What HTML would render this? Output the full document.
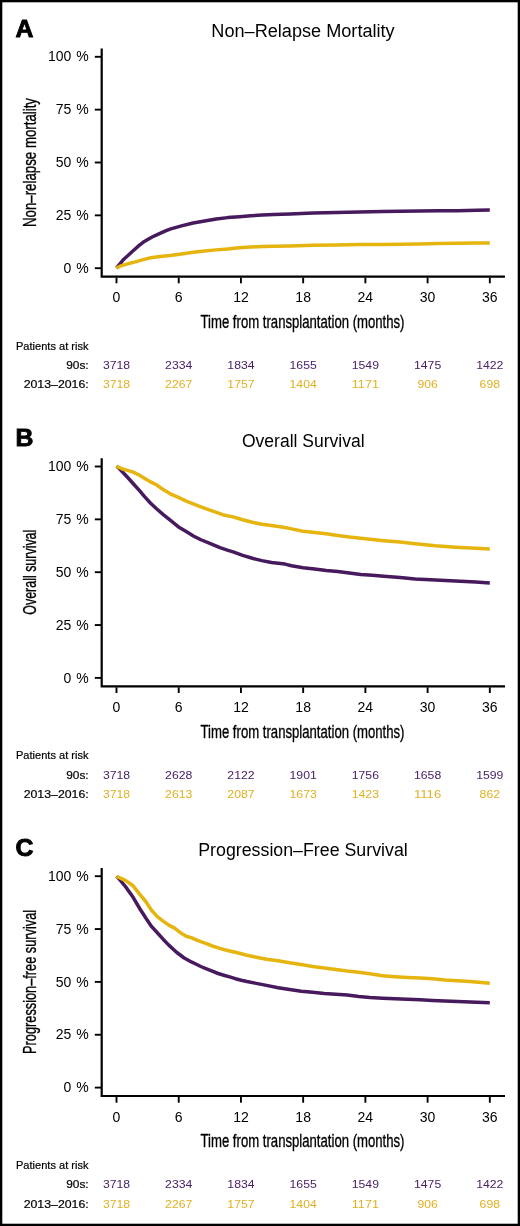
<!DOCTYPE html>
<html><head><meta charset="utf-8"><style>
html,body{margin:0;padding:0;background:#fff;}
svg{display:block;will-change:transform;}
text{font-family:"Liberation Sans",sans-serif;fill:#000;}
.let{font-weight:bold;font-size:24.8px;stroke:#000;stroke-width:0.9px;}
.ttl{font-size:18px;}
.yt{font-size:18.5px;stroke:#000;stroke-width:0.35px;}
.xt{font-size:18.75px;stroke:#000;stroke-width:0.35px;}
.tl{font-size:14px;}
.rk{font-size:11.5px;stroke:#000;stroke-width:0.2px;}
.rn{font-size:11.8px;}
.p{fill:#4a2169;}
.y{fill:#e0b020;}
.ax{fill:none;stroke:#000;stroke-width:2.2;stroke-linecap:butt;stroke-linejoin:miter;}
.tk{fill:none;stroke:#000;stroke-width:1.9;}
.cp{fill:none;stroke:#461a5d;stroke-width:3.5;stroke-linejoin:round;stroke-linecap:butt;}
.cy{fill:none;stroke:#e6b40e;stroke-width:3.5;stroke-linejoin:round;stroke-linecap:butt;}
</style></head><body>
<svg width="520" height="1226" viewBox="0 0 520 1226">
<rect x="1.15" y="1.15" width="517.7" height="1223.7" fill="#fff" stroke="#000" stroke-width="2.3"/>
<text x="15.6" y="36.60" class="let">A</text>
<text x="303.00" y="36.60" class="ttl" text-anchor="middle" textLength="183.3" lengthAdjust="spacingAndGlyphs">Non–Relapse Mortality</text>
<text transform="translate(35.9 162.50) rotate(-90)" class="yt" text-anchor="middle" textLength="129" lengthAdjust="spacingAndGlyphs">Non–relapse mortality</text>
<path d="M101.7 48.50 V276.60 H505" class="ax"/>
<path d="M94.8 268.20 H101" class="tk"/>
<text x="71.3" y="272.80" class="tl" text-anchor="end">0</text>
<text x="88.6" y="272.80" class="tl" text-anchor="end">%</text>
<path d="M94.8 215.35 H101" class="tk"/>
<text x="71.3" y="219.95" class="tl" text-anchor="end">25</text>
<text x="88.6" y="219.95" class="tl" text-anchor="end">%</text>
<path d="M94.8 162.50 H101" class="tk"/>
<text x="71.3" y="167.10" class="tl" text-anchor="end">50</text>
<text x="88.6" y="167.10" class="tl" text-anchor="end">%</text>
<path d="M94.8 109.65 H101" class="tk"/>
<text x="71.3" y="114.25" class="tl" text-anchor="end">75</text>
<text x="88.6" y="114.25" class="tl" text-anchor="end">%</text>
<path d="M94.8 56.80 H101" class="tk"/>
<text x="71.3" y="61.40" class="tl" text-anchor="end">100</text>
<text x="88.6" y="61.40" class="tl" text-anchor="end">%</text>
<path d="M116.50 277.60 V283.30" class="tk"/>
<text x="116.50" y="302.20" class="tl" text-anchor="middle">0</text>
<path d="M178.72 277.60 V283.30" class="tk"/>
<text x="178.72" y="302.20" class="tl" text-anchor="middle">6</text>
<path d="M240.94 277.60 V283.30" class="tk"/>
<text x="240.94" y="302.20" class="tl" text-anchor="middle">12</text>
<path d="M303.16 277.60 V283.30" class="tk"/>
<text x="303.16" y="302.20" class="tl" text-anchor="middle">18</text>
<path d="M365.38 277.60 V283.30" class="tk"/>
<text x="365.38" y="302.20" class="tl" text-anchor="middle">24</text>
<path d="M427.60 277.60 V283.30" class="tk"/>
<text x="427.60" y="302.20" class="tl" text-anchor="middle">30</text>
<path d="M489.82 277.60 V283.30" class="tk"/>
<text x="489.82" y="302.20" class="tl" text-anchor="middle">36</text>
<text x="302.5" y="327.90" class="xt" text-anchor="middle" textLength="204" lengthAdjust="spacingAndGlyphs">Time from transplantation (months)</text>
<text x="16" y="349.50" class="rk" textLength="72.5" lengthAdjust="spacingAndGlyphs">Patients at risk</text>
<text x="88.7" y="369.00" class="rk" text-anchor="end" textLength="22.5" lengthAdjust="spacingAndGlyphs">90s:</text>
<text x="88.7" y="388.20" class="rk" text-anchor="end" textLength="65" lengthAdjust="spacingAndGlyphs">2013–2016:</text>
<text x="116.50" y="369.00" class="rn p" text-anchor="middle" textLength="27.2" lengthAdjust="spacingAndGlyphs">3718</text>
<text x="116.50" y="388.20" class="rn y" text-anchor="middle" textLength="27.2" lengthAdjust="spacingAndGlyphs">3718</text>
<text x="178.72" y="369.00" class="rn p" text-anchor="middle" textLength="27.2" lengthAdjust="spacingAndGlyphs">2334</text>
<text x="178.72" y="388.20" class="rn y" text-anchor="middle" textLength="27.2" lengthAdjust="spacingAndGlyphs">2267</text>
<text x="240.94" y="369.00" class="rn p" text-anchor="middle" textLength="27.2" lengthAdjust="spacingAndGlyphs">1834</text>
<text x="240.94" y="388.20" class="rn y" text-anchor="middle" textLength="27.2" lengthAdjust="spacingAndGlyphs">1757</text>
<text x="303.16" y="369.00" class="rn p" text-anchor="middle" textLength="27.2" lengthAdjust="spacingAndGlyphs">1655</text>
<text x="303.16" y="388.20" class="rn y" text-anchor="middle" textLength="27.2" lengthAdjust="spacingAndGlyphs">1404</text>
<text x="365.38" y="369.00" class="rn p" text-anchor="middle" textLength="27.2" lengthAdjust="spacingAndGlyphs">1549</text>
<text x="365.38" y="388.20" class="rn y" text-anchor="middle" textLength="27.2" lengthAdjust="spacingAndGlyphs">1171</text>
<text x="427.60" y="369.00" class="rn p" text-anchor="middle" textLength="27.2" lengthAdjust="spacingAndGlyphs">1475</text>
<text x="427.60" y="388.20" class="rn y" text-anchor="middle" textLength="20.4" lengthAdjust="spacingAndGlyphs">906</text>
<text x="489.82" y="369.00" class="rn p" text-anchor="middle" textLength="27.2" lengthAdjust="spacingAndGlyphs">1422</text>
<text x="489.82" y="388.20" class="rn y" text-anchor="middle" textLength="20.4" lengthAdjust="spacingAndGlyphs">698</text>
<path d="M116.5 268.20 L120.0 263.80 L123.8 259.20 L127.7 255.80 L131.5 252.30 L135.4 248.80 L139.2 245.40 L143.1 242.30 L146.9 240.00 L150.8 237.70 L154.6 235.80 L160.0 233.40 L165.0 231.10 L170.0 229.10 L181.5 225.90 L193.1 222.93 L204.6 221.06 L216.2 218.99 L227.7 217.62 L239.2 216.75 L250.8 215.78 L262.3 215.08 L273.8 214.61 L290.0 213.90 L313.1 213.08 L336.2 212.57 L359.2 211.97 L382.3 211.44 L400.0 211.32 L419.2 211.09 L438.5 210.87 L457.7 210.64 L476.9 210.22 L489.8 210.00" class="cp"/>
<path d="M116.5 268.20 L120.0 266.20 L127.7 263.80 L135.4 261.90 L143.1 259.60 L150.8 257.70 L160.0 256.40 L170.0 255.60 L181.5 253.90 L193.1 252.19 L204.6 250.89 L216.2 249.88 L227.7 248.98 L239.2 247.66 L250.8 247.02 L262.3 246.59 L273.8 246.26 L290.0 246.09 L313.1 245.37 L336.2 244.95 L359.2 244.62 L382.3 244.40 L400.0 244.29 L419.2 243.97 L438.5 243.45 L457.7 243.13 L476.9 242.91 L489.8 242.90" class="cy"/>
<text x="15.6" y="446.30" class="let">B</text>
<text x="303.30" y="447.10" class="ttl" text-anchor="middle" textLength="122.6" lengthAdjust="spacingAndGlyphs">Overall Survival</text>
<text transform="translate(35.9 572.20) rotate(-90)" class="yt" text-anchor="middle" textLength="85" lengthAdjust="spacingAndGlyphs">Overall survival</text>
<path d="M101.7 458.20 V686.30 H505" class="ax"/>
<path d="M94.8 677.90 H101" class="tk"/>
<text x="71.3" y="682.50" class="tl" text-anchor="end">0</text>
<text x="88.6" y="682.50" class="tl" text-anchor="end">%</text>
<path d="M94.8 625.05 H101" class="tk"/>
<text x="71.3" y="629.65" class="tl" text-anchor="end">25</text>
<text x="88.6" y="629.65" class="tl" text-anchor="end">%</text>
<path d="M94.8 572.20 H101" class="tk"/>
<text x="71.3" y="576.80" class="tl" text-anchor="end">50</text>
<text x="88.6" y="576.80" class="tl" text-anchor="end">%</text>
<path d="M94.8 519.35 H101" class="tk"/>
<text x="71.3" y="523.95" class="tl" text-anchor="end">75</text>
<text x="88.6" y="523.95" class="tl" text-anchor="end">%</text>
<path d="M94.8 466.50 H101" class="tk"/>
<text x="71.3" y="471.10" class="tl" text-anchor="end">100</text>
<text x="88.6" y="471.10" class="tl" text-anchor="end">%</text>
<path d="M116.50 687.30 V693.00" class="tk"/>
<text x="116.50" y="711.90" class="tl" text-anchor="middle">0</text>
<path d="M178.72 687.30 V693.00" class="tk"/>
<text x="178.72" y="711.90" class="tl" text-anchor="middle">6</text>
<path d="M240.94 687.30 V693.00" class="tk"/>
<text x="240.94" y="711.90" class="tl" text-anchor="middle">12</text>
<path d="M303.16 687.30 V693.00" class="tk"/>
<text x="303.16" y="711.90" class="tl" text-anchor="middle">18</text>
<path d="M365.38 687.30 V693.00" class="tk"/>
<text x="365.38" y="711.90" class="tl" text-anchor="middle">24</text>
<path d="M427.60 687.30 V693.00" class="tk"/>
<text x="427.60" y="711.90" class="tl" text-anchor="middle">30</text>
<path d="M489.82 687.30 V693.00" class="tk"/>
<text x="489.82" y="711.90" class="tl" text-anchor="middle">36</text>
<text x="302.5" y="737.60" class="xt" text-anchor="middle" textLength="204" lengthAdjust="spacingAndGlyphs">Time from transplantation (months)</text>
<text x="16" y="759.20" class="rk" textLength="72.5" lengthAdjust="spacingAndGlyphs">Patients at risk</text>
<text x="88.7" y="778.70" class="rk" text-anchor="end" textLength="22.5" lengthAdjust="spacingAndGlyphs">90s:</text>
<text x="88.7" y="797.90" class="rk" text-anchor="end" textLength="65" lengthAdjust="spacingAndGlyphs">2013–2016:</text>
<text x="116.50" y="778.70" class="rn p" text-anchor="middle" textLength="27.2" lengthAdjust="spacingAndGlyphs">3718</text>
<text x="116.50" y="797.90" class="rn y" text-anchor="middle" textLength="27.2" lengthAdjust="spacingAndGlyphs">3718</text>
<text x="178.72" y="778.70" class="rn p" text-anchor="middle" textLength="27.2" lengthAdjust="spacingAndGlyphs">2628</text>
<text x="178.72" y="797.90" class="rn y" text-anchor="middle" textLength="27.2" lengthAdjust="spacingAndGlyphs">2613</text>
<text x="240.94" y="778.70" class="rn p" text-anchor="middle" textLength="27.2" lengthAdjust="spacingAndGlyphs">2122</text>
<text x="240.94" y="797.90" class="rn y" text-anchor="middle" textLength="27.2" lengthAdjust="spacingAndGlyphs">2087</text>
<text x="303.16" y="778.70" class="rn p" text-anchor="middle" textLength="27.2" lengthAdjust="spacingAndGlyphs">1901</text>
<text x="303.16" y="797.90" class="rn y" text-anchor="middle" textLength="27.2" lengthAdjust="spacingAndGlyphs">1673</text>
<text x="365.38" y="778.70" class="rn p" text-anchor="middle" textLength="27.2" lengthAdjust="spacingAndGlyphs">1756</text>
<text x="365.38" y="797.90" class="rn y" text-anchor="middle" textLength="27.2" lengthAdjust="spacingAndGlyphs">1423</text>
<text x="427.60" y="778.70" class="rn p" text-anchor="middle" textLength="27.2" lengthAdjust="spacingAndGlyphs">1658</text>
<text x="427.60" y="797.90" class="rn y" text-anchor="middle" textLength="27.2" lengthAdjust="spacingAndGlyphs">1116</text>
<text x="489.82" y="778.70" class="rn p" text-anchor="middle" textLength="27.2" lengthAdjust="spacingAndGlyphs">1599</text>
<text x="489.82" y="797.90" class="rn y" text-anchor="middle" textLength="20.4" lengthAdjust="spacingAndGlyphs">862</text>
<path d="M116.5 466.30 L118.3 467.50 L127.5 477.30 L133.3 483.70 L139.1 490.20 L144.8 496.90 L150.6 503.20 L156.0 508.30 L163.0 514.40 L170.8 520.60 L178.5 526.90 L186.2 531.50 L193.8 536.20 L201.5 540.00 L209.2 543.10 L220.0 547.70 L228.0 550.30 L233.1 551.90 L242.7 555.40 L252.3 558.30 L261.9 560.60 L271.5 562.50 L285.0 564.10 L291.5 565.80 L303.1 567.70 L314.6 569.10 L326.2 570.50 L337.7 571.60 L349.2 573.00 L360.8 574.40 L372.3 575.30 L383.8 576.20 L400.0 577.60 L415.2 578.90 L435.4 580.10 L455.6 581.10 L475.8 582.10 L489.8 582.90" class="cp"/>
<path d="M116.5 466.30 L121.8 468.70 L127.5 470.40 L133.3 472.10 L139.1 475.00 L144.8 478.50 L150.6 481.90 L156.4 484.80 L163.1 489.50 L170.8 494.10 L178.5 497.40 L186.2 501.10 L193.8 504.20 L201.5 507.20 L209.2 509.80 L220.0 513.60 L223.5 515.00 L233.1 516.90 L242.7 519.80 L252.3 522.30 L261.9 524.20 L271.5 525.60 L285.0 527.50 L291.5 528.90 L303.1 531.20 L314.6 532.60 L326.2 533.80 L337.7 535.40 L349.2 537.00 L360.8 538.20 L372.3 539.50 L383.8 540.70 L400.0 542.10 L415.2 543.70 L435.4 545.80 L455.6 547.20 L475.8 548.20 L489.8 549.00" class="cy"/>
<text x="15.6" y="856.00" class="let">C</text>
<text x="303.00" y="856.00" class="ttl" text-anchor="middle" textLength="209.5" lengthAdjust="spacingAndGlyphs">Progression–Free Survival</text>
<text transform="translate(35.9 981.90) rotate(-90)" class="yt" text-anchor="middle" textLength="144" lengthAdjust="spacingAndGlyphs">Progression–free survival</text>
<path d="M101.7 867.90 V1096.00 H505" class="ax"/>
<path d="M94.8 1087.60 H101" class="tk"/>
<text x="71.3" y="1092.20" class="tl" text-anchor="end">0</text>
<text x="88.6" y="1092.20" class="tl" text-anchor="end">%</text>
<path d="M94.8 1034.75 H101" class="tk"/>
<text x="71.3" y="1039.35" class="tl" text-anchor="end">25</text>
<text x="88.6" y="1039.35" class="tl" text-anchor="end">%</text>
<path d="M94.8 981.90 H101" class="tk"/>
<text x="71.3" y="986.50" class="tl" text-anchor="end">50</text>
<text x="88.6" y="986.50" class="tl" text-anchor="end">%</text>
<path d="M94.8 929.05 H101" class="tk"/>
<text x="71.3" y="933.65" class="tl" text-anchor="end">75</text>
<text x="88.6" y="933.65" class="tl" text-anchor="end">%</text>
<path d="M94.8 876.20 H101" class="tk"/>
<text x="71.3" y="880.80" class="tl" text-anchor="end">100</text>
<text x="88.6" y="880.80" class="tl" text-anchor="end">%</text>
<path d="M116.50 1097.00 V1102.70" class="tk"/>
<text x="116.50" y="1121.60" class="tl" text-anchor="middle">0</text>
<path d="M178.72 1097.00 V1102.70" class="tk"/>
<text x="178.72" y="1121.60" class="tl" text-anchor="middle">6</text>
<path d="M240.94 1097.00 V1102.70" class="tk"/>
<text x="240.94" y="1121.60" class="tl" text-anchor="middle">12</text>
<path d="M303.16 1097.00 V1102.70" class="tk"/>
<text x="303.16" y="1121.60" class="tl" text-anchor="middle">18</text>
<path d="M365.38 1097.00 V1102.70" class="tk"/>
<text x="365.38" y="1121.60" class="tl" text-anchor="middle">24</text>
<path d="M427.60 1097.00 V1102.70" class="tk"/>
<text x="427.60" y="1121.60" class="tl" text-anchor="middle">30</text>
<path d="M489.82 1097.00 V1102.70" class="tk"/>
<text x="489.82" y="1121.60" class="tl" text-anchor="middle">36</text>
<text x="302.5" y="1147.30" class="xt" text-anchor="middle" textLength="204" lengthAdjust="spacingAndGlyphs">Time from transplantation (months)</text>
<text x="16" y="1168.90" class="rk" textLength="72.5" lengthAdjust="spacingAndGlyphs">Patients at risk</text>
<text x="88.7" y="1188.40" class="rk" text-anchor="end" textLength="22.5" lengthAdjust="spacingAndGlyphs">90s:</text>
<text x="88.7" y="1207.60" class="rk" text-anchor="end" textLength="65" lengthAdjust="spacingAndGlyphs">2013–2016:</text>
<text x="116.50" y="1188.40" class="rn p" text-anchor="middle" textLength="27.2" lengthAdjust="spacingAndGlyphs">3718</text>
<text x="116.50" y="1207.60" class="rn y" text-anchor="middle" textLength="27.2" lengthAdjust="spacingAndGlyphs">3718</text>
<text x="178.72" y="1188.40" class="rn p" text-anchor="middle" textLength="27.2" lengthAdjust="spacingAndGlyphs">2334</text>
<text x="178.72" y="1207.60" class="rn y" text-anchor="middle" textLength="27.2" lengthAdjust="spacingAndGlyphs">2267</text>
<text x="240.94" y="1188.40" class="rn p" text-anchor="middle" textLength="27.2" lengthAdjust="spacingAndGlyphs">1834</text>
<text x="240.94" y="1207.60" class="rn y" text-anchor="middle" textLength="27.2" lengthAdjust="spacingAndGlyphs">1757</text>
<text x="303.16" y="1188.40" class="rn p" text-anchor="middle" textLength="27.2" lengthAdjust="spacingAndGlyphs">1655</text>
<text x="303.16" y="1207.60" class="rn y" text-anchor="middle" textLength="27.2" lengthAdjust="spacingAndGlyphs">1404</text>
<text x="365.38" y="1188.40" class="rn p" text-anchor="middle" textLength="27.2" lengthAdjust="spacingAndGlyphs">1549</text>
<text x="365.38" y="1207.60" class="rn y" text-anchor="middle" textLength="27.2" lengthAdjust="spacingAndGlyphs">1171</text>
<text x="427.60" y="1188.40" class="rn p" text-anchor="middle" textLength="27.2" lengthAdjust="spacingAndGlyphs">1475</text>
<text x="427.60" y="1207.60" class="rn y" text-anchor="middle" textLength="20.4" lengthAdjust="spacingAndGlyphs">906</text>
<text x="489.82" y="1188.40" class="rn p" text-anchor="middle" textLength="27.2" lengthAdjust="spacingAndGlyphs">1422</text>
<text x="489.82" y="1207.60" class="rn y" text-anchor="middle" textLength="20.4" lengthAdjust="spacingAndGlyphs">698</text>
<path d="M116.5 876.30 L118.5 878.10 L125.4 886.50 L133.1 897.30 L140.0 909.00 L145.8 918.00 L151.5 926.42 L157.3 932.70 L163.1 939.21 L168.8 945.10 L176.5 952.25 L184.2 958.00 L191.9 962.20 L195.8 964.00 L200.8 966.50 L206.5 968.80 L212.3 971.20 L218.1 973.50 L223.8 975.20 L229.6 976.90 L235.4 978.70 L241.2 980.20 L246.9 981.50 L255.0 983.10 L266.5 985.40 L278.1 987.70 L289.6 989.50 L301.2 991.20 L312.7 992.30 L324.2 993.50 L335.8 994.20 L347.3 995.10 L358.8 996.50 L370.0 997.50 L382.5 998.25 L395.0 998.75 L407.5 999.25 L420.0 999.75 L432.5 1000.50 L445.0 1001.00 L457.5 1001.50 L470.0 1002.00 L489.8 1002.75" class="cp"/>
<path d="M116.5 876.30 L125.4 880.40 L133.1 885.80 L140.0 894.60 L145.8 901.50 L151.5 910.20 L157.3 916.60 L163.1 921.05 L168.8 925.12 L174.6 928.16 L180.4 932.72 L186.2 936.20 L191.9 937.90 L195.0 939.40 L200.8 941.70 L206.5 943.70 L212.3 946.00 L218.1 947.80 L223.8 949.50 L229.6 951.00 L235.4 952.30 L241.2 953.80 L246.9 955.30 L255.0 957.00 L266.5 959.30 L278.1 960.70 L289.6 962.80 L301.2 964.60 L312.7 966.50 L324.2 968.10 L335.8 969.50 L347.3 971.10 L358.8 972.20 L370.0 973.75 L382.5 975.75 L395.0 976.75 L407.5 977.50 L420.0 978.00 L432.5 978.75 L445.0 980.00 L457.5 980.75 L470.0 981.50 L489.8 983.25" class="cy"/>
</svg>
</body></html>
